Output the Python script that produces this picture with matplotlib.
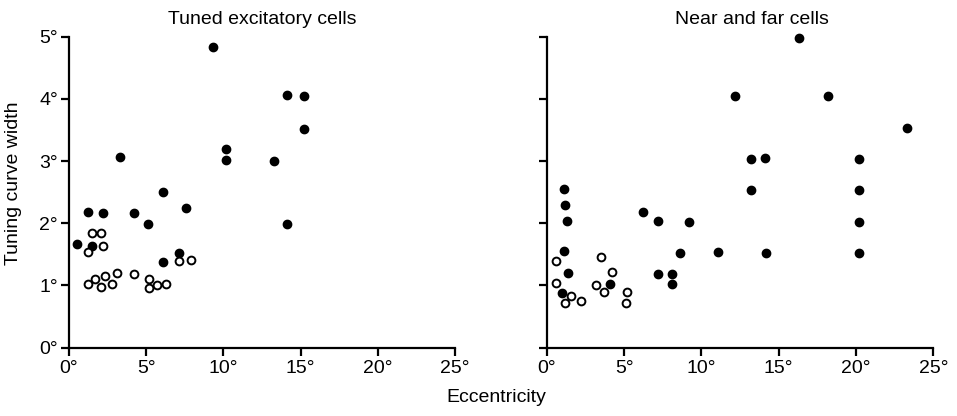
import matplotlib
matplotlib.use("Agg")
import matplotlib.pyplot as plt

plt.rcParams['font.family'] = ['Liberation Sans', 'DejaVu Sans']

# Tuned excitatory cells
tuned_filled_x = [0.5, 1.2, 2.2, 1.5, 3.3, 4.2, 5.1, 6.1, 7.6, 6.1, 7.1, 9.3, 10.2, 10.2, 13.3, 14.1, 15.2, 15.2, 14.1]
tuned_filled_y = [1.66, 2.18, 2.17, 1.64, 3.07, 2.16, 1.99, 2.51, 2.25, 1.37, 1.52, 4.84, 3.2, 3.02, 3.0, 4.07, 4.04, 3.51, 1.99]
tuned_open_x = [1.2, 1.5, 2.1, 2.2, 1.2, 1.7, 2.3, 2.1, 2.8, 3.1, 4.2, 5.2, 5.2, 5.7, 6.3, 7.1, 7.9]
tuned_open_y = [1.54, 1.85, 1.85, 1.64, 1.03, 1.11, 1.16, 0.97, 1.02, 1.2, 1.18, 1.11, 0.96, 1.01, 1.02, 1.40, 1.41]

# Near and far cells
nf_filled_x = [1.1, 1.2, 1.3, 1.1, 1.4, 1.0, 4.1, 6.2, 7.2, 9.2, 8.6, 7.2, 8.1, 8.1, 11.1, 12.2,
               13.2, 14.1, 13.2, 14.2, 16.3, 18.2, 23.3, 20.2, 20.2, 20.2, 20.2]
nf_filled_y = [2.55, 2.29, 2.03, 1.56, 1.20, 0.88, 1.02, 2.18, 2.04, 2.02, 1.53, 1.18, 1.18, 1.03, 1.54, 4.04,
               3.04, 3.05, 2.53, 1.52, 4.98, 4.04, 3.54, 3.04, 2.53, 2.02, 1.52]
nf_open_x = [0.6, 0.6, 1.2, 1.6, 2.2, 3.2, 3.5, 3.7, 4.2, 5.2, 5.1]
nf_open_y = [1.40, 1.04, 0.72, 0.83, 0.75, 1.0, 1.46, 0.89, 1.22, 0.89, 0.72]

xticks = [0, 5, 10, 15, 20, 25]
yticks = [0, 1, 2, 3, 4, 5]

fig = plt.figure(figsize=(9.57, 4.16), dpi=100)
ax1 = fig.add_axes([0.0721, 0.1642, 0.4033, 0.7476])
ax2 = fig.add_axes([0.5713, 0.1642, 0.4040, 0.7476])

panels = [
    (ax1, tuned_filled_x, tuned_filled_y, tuned_open_x, tuned_open_y, 'Tuned excitatory cells', 0.5),
    (ax2, nf_filled_x, nf_filled_y, nf_open_x, nf_open_y, 'Near and far cells', 0.53),
]

for ax, fx, fy, ox, oy, title, tx in panels:
    ax.plot(fx, fy, 'o', color='black', markersize=6, linestyle='none', clip_on=False)
    ax.plot(ox, oy, 'o', markerfacecolor='white', markeredgecolor='black',
            markeredgewidth=1.4, markersize=5.6, linestyle='none', clip_on=False)
    ax.set_xlim(0, 25)
    ax.set_ylim(0, 5)
    ax.set_xticks(xticks)
    ax.set_xticklabels([f'{t}°' for t in xticks])
    ax.set_yticks(yticks)
    ax.spines['top'].set_visible(False)
    ax.spines['right'].set_visible(False)
    for s in ('left', 'bottom'):
        ax.spines[s].set_linewidth(1.6)
    ax.tick_params(direction='out', length=6, width=1.6, labelsize=14, pad=2)
    ax.tick_params(axis='x', pad=3)
    ax.set_title(title, fontsize=14, x=tx, pad=9)

ax1.set_yticklabels([f'{t}°' for t in yticks])
ax2.set_yticklabels([])
ax1.set_ylabel('Tuning curve width', fontsize=14)
ax1.yaxis.set_label_coords(-0.121, 0.53)
fig.text(0.519, 0.045, 'Eccentricity', fontsize=14, ha='center', va='center')

fig.savefig('out.png', dpi=100)
